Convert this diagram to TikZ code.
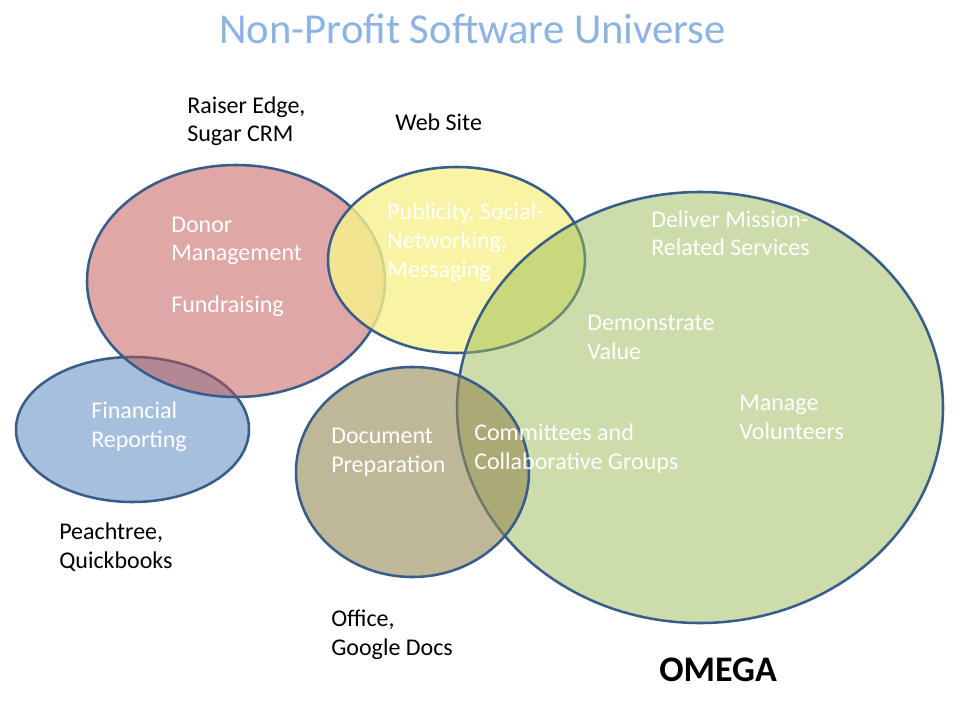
\documentclass[tikz,border=0pt]{standalone}
\usepackage{fontspec}
\setmainfont{Carlito}
\definecolor{edge}{HTML}{385D8A}
\definecolor{cred}{HTML}{C0504D}
\definecolor{cblue}{HTML}{4F81BD}
\definecolor{cyellow}{RGB}{247,242,140}
\definecolor{cgreen}{HTML}{9BBB59}
\definecolor{ctan}{HTML}{948A54}
\definecolor{ctitle}{HTML}{8DB3E2}
\begin{document}
\begin{tikzpicture}[x=0.75pt,y=-0.75pt,
  blob/.style={draw=edge, line width=1.9pt},
  lbl/.style={font=\fontsize{18}{21.4}\selectfont, align=left, anchor=base west, inner sep=0pt},
  intext/.style={lbl, text=white},
  outtext/.style={lbl, text=black}]
\useasboundingbox[fill=white] (0,0) rectangle (960,720);
% sets
\path[blob, fill=cblue, fill opacity=0.5] (132.5,429.5) ellipse [x radius=116.5, y radius=72.5];
\path[blob, fill=cred, fill opacity=0.5] (236,281) ellipse [x radius=149, y radius=116];
\path[blob, fill=cyellow, fill opacity=0.8] (456.5,260) ellipse [x radius=128.5, y radius=93];
\path[blob, fill=cgreen, fill opacity=0.5] (700,407.5) ellipse [x radius=243, y radius=215.5];
\path[blob, fill=ctan, fill opacity=0.6] (412.5,472) ellipse [x radius=116.5, y radius=105];
% title
\node (title) at (472.5,44) [anchor=base, inner sep=0pt, text=ctitle, font=\fontsize{32}{38}\selectfont] {Non-Profit Software Universe};
% labels inside (anchor: baseline of last line)
\node[intext] (donor) at (171,261) {Donor\\Management};
\node[intext] (fund) at (171,312) {Fundraising};
\node[intext] (pub) at (387,277) {Publicity, Social-\\Networking,\\Messaging};
\node[intext] (deliver) at (651,256) {Deliver Mission-\\Related Services};
\node[intext] (demo) at (587,359) {Demonstrate\\Value};
\node[intext] (manage) at (739,439) {Manage\\Volunteers};
\node[intext] (fin) at (91,447) {Financial\\Reporting};
\node[intext] (doc) at (331,472) {Document\\Preparation};
\node[intext] (comm) at (474,469) {Committees and\\Collaborative Groups};
% labels outside
\node[outtext] (raiser) at (187,142) {Raiser Edge,\\Sugar CRM};
\node[outtext] (web) at (395,131) {Web Site};
\node[outtext] (peach) at (59,568) {Peachtree,\\Quickbooks};
\node[outtext] (office) at (331,655) {Office,\\Google Docs};
\node[anchor=base west, inner sep=0pt, font=\bfseries\fontsize{27}{32}\selectfont] (omega) at (659,681) {OMEGA};
\end{tikzpicture}
\end{document}
